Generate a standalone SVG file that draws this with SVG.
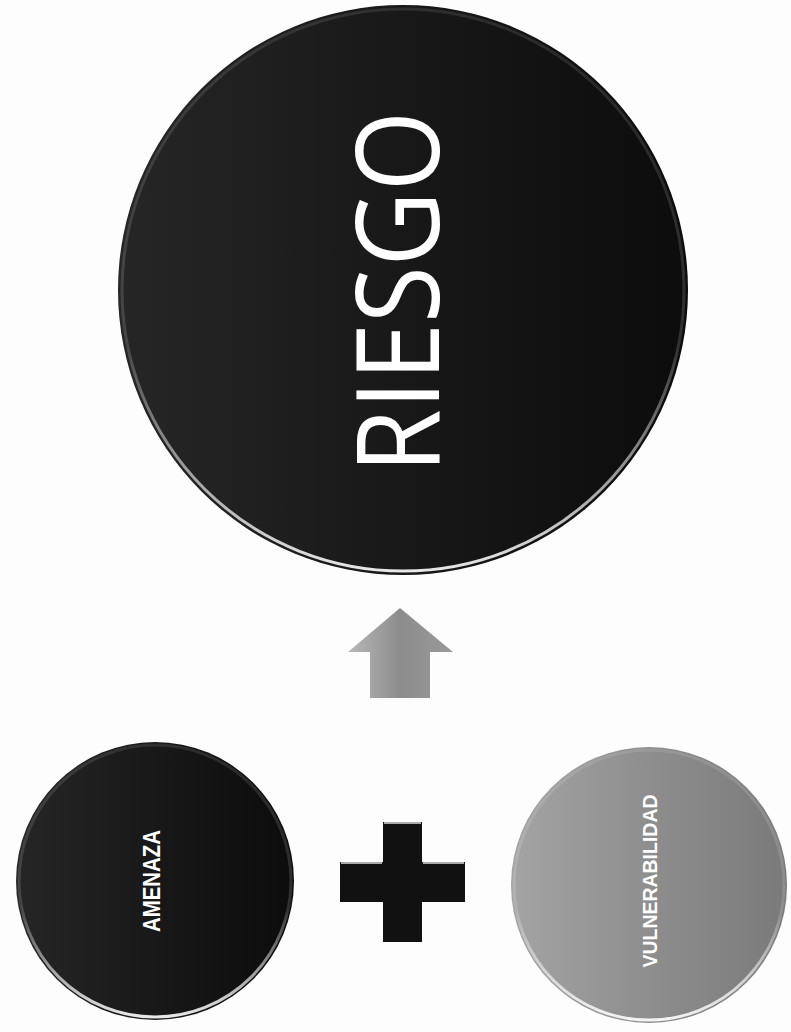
<svg xmlns="http://www.w3.org/2000/svg" width="791" height="1032" viewBox="0 0 791 1032">
<defs>
<linearGradient id="gDark" x1="0" y1="0" x2="1" y2="0">
<stop offset="0" stop-color="#262626"/><stop offset="0.5" stop-color="#181818"/><stop offset="1" stop-color="#0c0c0c"/>
</linearGradient>
<linearGradient id="gGray" x1="0" y1="0" x2="1" y2="0">
<stop offset="0" stop-color="#a4a4a4"/><stop offset="0.5" stop-color="#8e8e8e"/><stop offset="1" stop-color="#7a7a7a"/>
</linearGradient>
<linearGradient id="gArrow" x1="0" y1="0" x2="1" y2="0">
<stop offset="0" stop-color="#b8b8b8"/><stop offset="0.5" stop-color="#8c8c8c"/><stop offset="1" stop-color="#9a9a9a"/>
</linearGradient>
<linearGradient id="gRim" x1="0" y1="0" x2="0" y2="1">
<stop offset="0" stop-color="#ffffff" stop-opacity="0.1"/><stop offset="0.6" stop-color="#ffffff" stop-opacity="0.15"/><stop offset="1" stop-color="#ffffff" stop-opacity="0.9"/>
</linearGradient>
</defs>
<style>
.rim{fill:none;stroke:url(#gRim);stroke-width:3}
.lbl{fill:#ffffff;text-anchor:middle}
</style>
<rect width="791" height="1032" fill="#fdfdfd"/>
<g id="riesgo">
<circle cx="403" cy="290" r="285" fill="url(#gDark)"/>
<circle cx="403" cy="290" r="281" class="rim"/>
<text class="lbl" transform="translate(439,292) rotate(-90)" font-family="'Open Sans', sans-serif" font-weight="500" font-size="116" textLength="362" lengthAdjust="spacingAndGlyphs">RIESGO</text>
</g>
<g id="arrow">
<polygon points="400,608 453,652 430,652 430,698 370,698 370,652 348,652" fill="url(#gArrow)"/>
</g>
<g id="amenaza">
<circle cx="155" cy="881" r="139" fill="url(#gDark)"/>
<circle cx="155" cy="881" r="136" class="rim"/>
<text class="lbl" transform="translate(160,881) rotate(-90)" font-family="'Liberation Sans', Arial, sans-serif" font-weight="bold" font-size="23" textLength="102" lengthAdjust="spacingAndGlyphs">AMENAZA</text>
</g>
<g id="plus">
<path d="M383,822 H422 V862 H465 V902 H422 V942 H383 V902 H340 V862 H383 Z" fill="#111"/>
<path d="M384,823 H421 M341,863 H382 M423,863 H464" stroke="#ddd" stroke-width="1.5" fill="none"/>
</g>
<g id="vulnerabilidad">
<circle cx="649" cy="885" r="138" fill="url(#gGray)"/>
<circle cx="649" cy="885" r="135" class="rim"/>
<text class="lbl" transform="translate(657,881) rotate(-90)" font-family="'Liberation Sans', Arial, sans-serif" font-weight="bold" font-size="20" textLength="173" lengthAdjust="spacingAndGlyphs">VULNERABILIDAD</text>
</g>
</svg>
